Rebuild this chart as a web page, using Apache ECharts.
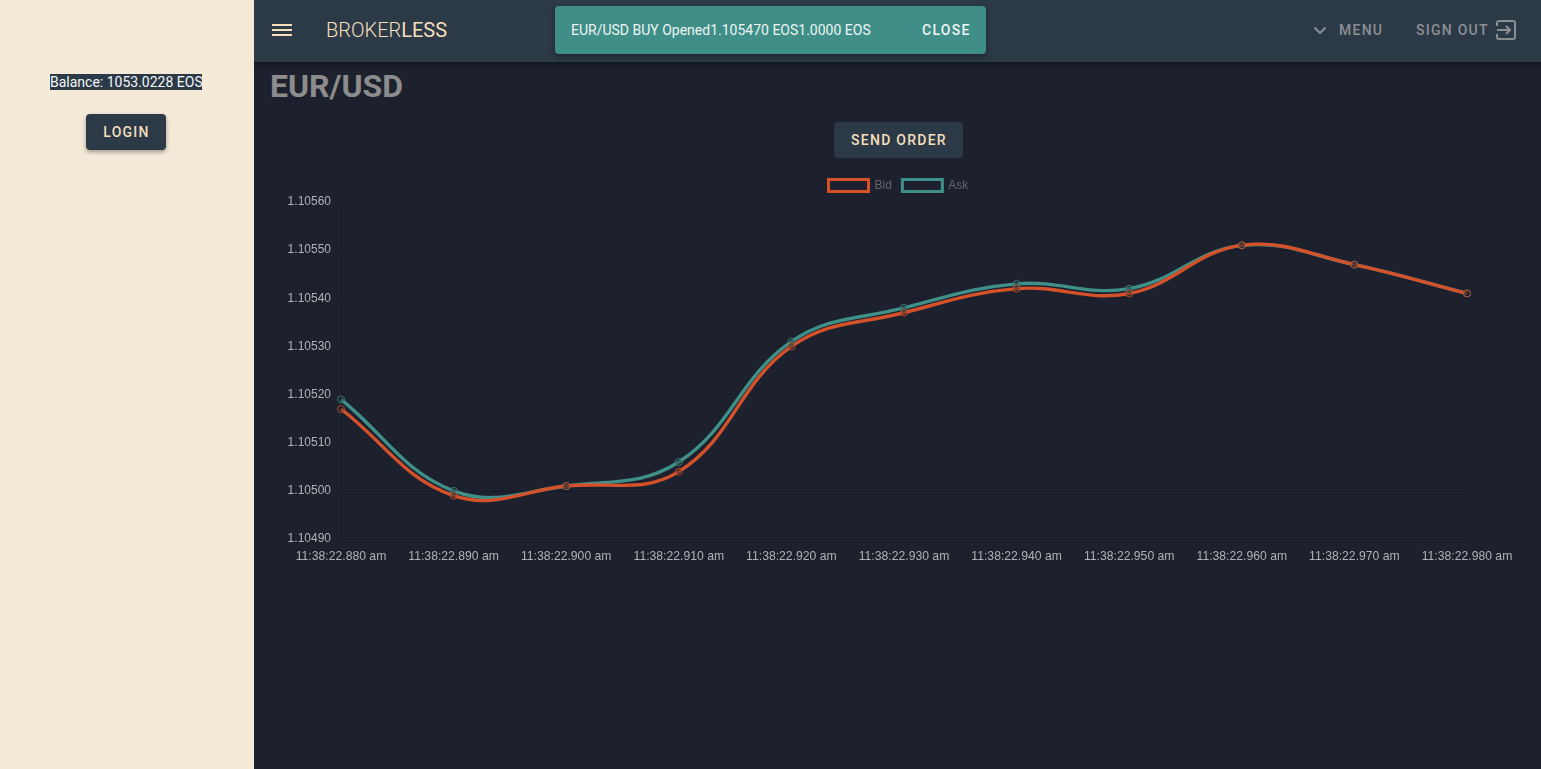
<!DOCTYPE html>
<html>
<head>
<meta charset="utf-8">
<title>EUR/USD</title>
<script src="https://cdn.jsdelivr.net/npm/echarts@6/dist/echarts.min.js"></script>
<style>
html, body { margin: 0; padding: 0; width: 1541px; height: 769px; overflow: hidden; background: #1c212d; font-family: Roboto, sans-serif; }
div, span, svg { position: absolute; white-space: nowrap; box-sizing: border-box; }
#side { left: 0; top: 0; width: 254px; height: 769px; background: #f5e9d7; z-index: 2; }
#balance { left: 50px; top: 74px; width: 152px; height: 16px; line-height: 16px; background: #2c3a47; color: #f4f6f7; font-size: 14px; text-align: center; }
#login { left: 86px; top: 114px; width: 80px; height: 36px; line-height: 36px; padding-left: 1px; border-radius: 4px; background: #2c3a47; color: #f5dfbd; font-size: 14px; font-weight: 500; letter-spacing: 1.25px; text-align: center; box-shadow: 0 2px 4px rgba(0,0,0,.35); }
#bar { left: 254px; top: 0; width: 1287px; height: 62px; background: #2c3a47; box-shadow: 0 2px 6px rgba(0,0,0,.4); }
#brand { left: 72px; top: 17px; font-size: 20px; line-height: 26px; color: #f5dfbd; font-weight: 300; }
#brand b { font-weight: 400; }
.nav { color: #8b8f94; font-size: 14px; font-weight: 500; letter-spacing: 1.25px; line-height: 20px; top: 20px; }
#toast { left: 555px; top: 6px; width: 431px; height: 48px; line-height: 48px; border-radius: 4px; background: #3f8e87; color: #eef5f4; font-size: 14px; box-shadow: 0 3px 6px rgba(0,0,0,.35); z-index: 3; }
#toast span.msg { left: 16px; }
#toast span.close { left: 367px; font-weight: 500; letter-spacing: 1.25px; }
#pair { left: 270px; top: 68px; font-size: 32px; line-height: 36px; font-weight: 700; color: #8c8c8c; }
#send { left: 834px; top: 122px; width: 129px; height: 36px; line-height: 36px; padding-left: 1px; border-radius: 4px; background: #2c3a47; color: #f5dfbd; font-size: 14px; font-weight: 500; letter-spacing: 1.25px; text-align: center; }
#main { left: 254px; top: 170px; width: 1287px; height: 420px; }
</style>
</head>
<body>
<div id="side">
  <div id="balance">Balance: 1053.0228 EOS</div>
  <div id="login">LOGIN</div>
</div>
<div id="bar">
  <svg style="left:18px;top:23px" width="20" height="14"><path d="M0 2h20M0 7h20M0 12h20" stroke="#f5dfbd" stroke-width="2"/></svg>
  <div id="brand">BROKER<b>LESS</b></div>
  <svg style="left:1059px;top:26px" width="14" height="9"><path d="M1.5 1.5L7 7l5.5-5.5" fill="none" stroke="#8b8f94" stroke-width="2"/></svg>
  <span class="nav" style="left:1085px">MENU</span>
  <span class="nav" style="left:1162px">SIGN OUT</span>
  <svg style="left:1242px;top:20px" width="20" height="20"><path d="M1 6V3a2 2 0 0 1 2-2h14a2 2 0 0 1 2 2v14a2 2 0 0 1-2 2H3a2 2 0 0 1-2-2v-3M1 10h13M10 6l4 4-4 4" fill="none" stroke="#8b8f94" stroke-width="2"/></svg>
</div>
<div id="toast"><span class="msg">EUR/USD BUY Opened1.105470 EOS1.0000 EOS</span><span class="close">CLOSE</span></div>
<div id="pair">EUR/USD</div>
<div id="send">SEND ORDER</div>
<div id="main"></div>
<script>
var times = ['11:38:22.880 am','11:38:22.890 am','11:38:22.900 am','11:38:22.910 am','11:38:22.920 am','11:38:22.930 am','11:38:22.940 am','11:38:22.950 am','11:38:22.960 am','11:38:22.970 am','11:38:22.980 am'];
var bid = [1.10517,1.10499,1.10501,1.10504,1.10530,1.10537,1.10542,1.10541,1.10551,1.10547,1.10541];
var ask = [1.10519,1.10500,1.10501,1.10506,1.10531,1.10538,1.10543,1.10542,1.10551,1.10547,1.10541];
var bidColor = '#d4512a', askColor = '#3f9088';
var gridColor = '#161b27';
var tension = 0.4;

var myChart = echarts.init(document.getElementById('main'));

// the line series clamps its curve at each point, so the overshoot of the
// original spline needs a custom series: each item draws the piece to the next point
function curve(values, color) {
    return function (params, api) {
        var i = params.dataIndex;
        var pts = values.map(function (v, n) { return api.coord([n, v]); });
        var p = pts[i];
        var children = [];
        if (i < pts.length - 1) {
            var c1 = control(pts, i)[1], c2 = control(pts, i + 1)[0], q = pts[i + 1];
            children.push({
                type: 'bezierCurve',
                shape: { x1: p[0], y1: p[1], x2: q[0], y2: q[1], cpx1: c1[0], cpy1: c1[1], cpx2: c2[0], cpy2: c2[1] },
                style: { fill: null, stroke: color, lineWidth: 3.4 }
            });
        }
        return { type: 'group', children: children };
    };
}

function control(pts, i) {
    var cur = pts[i], prev = pts[i - 1] || cur, next = pts[i + 1] || cur;
    var d01 = Math.hypot(cur[0] - prev[0], cur[1] - prev[1]);
    var d12 = Math.hypot(next[0] - cur[0], next[1] - cur[1]);
    var fa = tension * d01 / (d01 + d12), fb = tension * d12 / (d01 + d12);
    return [
        [cur[0] - fa * (next[0] - prev[0]), cur[1] - fa * (next[1] - prev[1])],
        [cur[0] + fb * (next[0] - prev[0]), cur[1] + fb * (next[1] - prev[1])]
    ];
}

function curveSeries(name, values, color, z) {
    return {
        name: name,
        type: 'custom',
        coordinateSystem: 'cartesian2d',
        data: values.map(function (v, n) { return [n, v]; }),
        encode: { x: 0, y: 1 },
        z: z,
        clip: false,
        itemStyle: { color: color },
        renderItem: curve(values, color)
    };
}

function pointSeries(name, values, color, z) {
    return {
        name: name,
        type: 'scatter',
        data: values.map(function (v, n) { return [n, v]; }),
        z: z,
        symbol: 'circle',
        symbolSize: 7,
        itemStyle: { color: 'rgba(28,33,45,0.4)', borderColor: color, borderWidth: 1, opacity: 0.8 }
    };
}

function legendItem(name, color) {
    return { name: name, icon: 'rect', itemStyle: { color: 'rgba(0,0,0,0)', borderColor: color, borderWidth: 3 } };
}

var option = {
    animation: false,
    textStyle: { fontFamily: '"Liberation Sans", Arial, sans-serif' },
    legend: {
        data: [legendItem('Bid', bidColor), legendItem('Ask', askColor)],
        top: 3,
        left: 568,
        itemWidth: 40,
        itemHeight: 12,
        itemGap: 9,
        textStyle: { color: '#63666c', fontSize: 12, padding: [0, 0, 0, 1] },
        selectedMode: false
    },
    grid: { left: 87, right: 74, top: 32, height: 337 },
    xAxis: {
        type: 'category',
        boundaryGap: false,
        data: times,
        axisLine: { show: true, lineStyle: { color: gridColor } },
        axisTick: { show: false },
        axisLabel: { color: '#b0b2b5', fontSize: 12.2, margin: 12, interval: 0 },
        splitLine: { show: false }
    },
    yAxis: {
        type: 'value',
        min: 1.1049,
        max: 1.1056,
        interval: 0.0001,
        axisLine: { show: true, lineStyle: { color: gridColor } },
        axisTick: { show: false },
        axisLabel: {
            color: '#b0b2b5', fontSize: 12, margin: 10, verticalAlign: 'middle',
            formatter: function (v) { return v.toFixed(5); }
        },
        splitLine: { show: true, lineStyle: { color: gridColor } }
    },
    series: [
        curveSeries('Bid', bid, bidColor, 4),
        curveSeries('Ask', ask, askColor, 3),
        pointSeries('Bid points', bid, bidColor, 6),
        pointSeries('Ask points', ask, askColor, 5)
    ]
};
myChart.setOption(option);
</script>
</body>
</html>
